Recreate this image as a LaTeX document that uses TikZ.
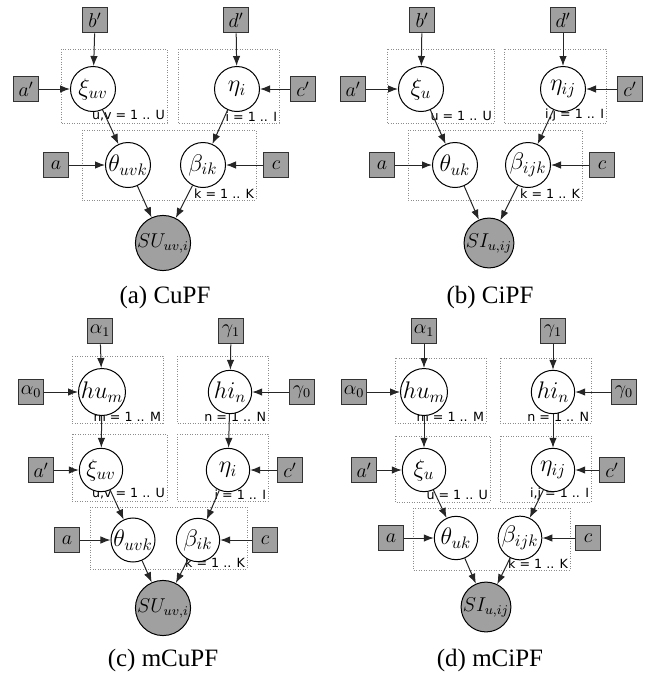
\documentclass[tikz,border=0pt]{standalone}
\usepackage{fontspec}
\setmainfont{Liberation Serif}
\newfontfamily\platefont{DejaVu Sans}
\usepackage{amsmath}
\usetikzlibrary{arrows.meta}
\definecolor{obsgray}{HTML}{A0A0A0}
\definecolor{plategray}{HTML}{8C8C8C}
\tikzset{
  latent/.style={
    circle,
    draw=black,
    fill=white,
    line width=0.6pt,
    minimum size=27pt,
    inner sep=0pt,
    font=\Large
  },
  observed/.style={
    latent,
    fill=obsgray,
    font=\large
  },
  hyper/.style={
    rectangle,
    draw=black!80,
    fill=obsgray,
    line width=0.6pt,
    minimum size=15.5pt,
    inner sep=0pt,
    font=\large
  },
  plate/.style={
    draw=plategray,
    densely dotted,
    line width=0.5pt
  },
  platelabel/.style={
    anchor=south east,
    inner sep=1pt,
    font=\platefont\fontsize{7.6}{8}\selectfont
  },
  edge/.style={
    -{Latex[length=6pt,width=4.5pt]},
    line width=0.6pt,
    draw=black!85
  },
  caption/.style={
    font=\fontsize{15}{18}\selectfont
  }
}

\begin{document}
\begin{tikzpicture}[x=0.6pt, y=-0.6pt]
  \useasboundingbox (0,0) rectangle (662,677);

  % (a) CuPF
  \draw[plate] (61,49) rectangle (167,123);
  \draw[plate] (178,49) rectangle (279,123);
  \draw[plate] (82,130) rectangle (256,200);
  \node[platelabel] at (167,123) {u,v = 1 .. U};
  \node[platelabel] at (279,123) {i = 1 .. I};
  \node[platelabel] at (256,200) {k = 1 .. K};
  \node[hyper] (abp) at (95,20) {$b'$};
  \node[hyper] (adp) at (236,20) {$d'$};
  \node[hyper] (aap) at (26,89) {$a'$};
  \node[hyper] (acp) at (303,89) {$c'$};
  \node[latent] (axi) at (93,89) {$\xi_{uv}$};
  \node[latent] (aeta) at (237,89) {$\eta_{i}$};
  \node[hyper] (aa) at (56,165) {$a$};
  \node[hyper] (ac) at (276,165) {$c$};
  \node[latent] (atheta) at (128,165) {$\theta_{uvk}$};
  \node[latent] (abeta) at (203,165) {$\beta_{ik}$};
  \node[observed] (asu) at (163,243) {$SU_{uv,i}$};
  \node[caption] (acap) at (165,297) {(a) CuPF};
  \draw[edge] (abp) -- (axi);
  \draw[edge] (aap) -- (axi);
  \draw[edge] (adp) -- (aeta);
  \draw[edge] (acp) -- (aeta);
  \draw[edge] (axi) -- (atheta);
  \draw[edge] (aeta) -- (abeta);
  \draw[edge] (aa) -- (atheta);
  \draw[edge] (ac) -- (abeta);
  \draw[edge] (atheta) -- (asu);
  \draw[edge] (abeta) -- (asu);

  % (b) CiPF
  \draw[plate] (387,49) rectangle (494,123);
  \draw[plate] (504,49) rectangle (606,123);
  \draw[plate] (408,130) rectangle (582,200);
  \node[platelabel] at (494,123) {u = 1 .. U};
  \node[platelabel] at (606,123) {i,j = 1 .. I};
  \node[platelabel] at (582,200) {k = 1 .. K};
  \node[hyper] (bbp) at (422,20) {$b'$};
  \node[hyper] (bdp) at (563,20) {$d'$};
  \node[hyper] (bap) at (353,89) {$a'$};
  \node[hyper] (bcp) at (630,89) {$c'$};
  \node[latent] (bxi) at (421,89) {$\xi_{u}$};
  \node[latent] (beta) at (563,89) {$\eta_{ij}$};
  \node[hyper] (ba) at (382,165) {$a$};
  \node[hyper] (bc) at (602,165) {$c$};
  \node[latent] (btheta) at (455,165) {$\theta_{uk}$};
  \node[latent] (bbeta) at (528,165) {$\beta_{ijk}$};
  \node[observed] (bsi) at (489,243) {$SI_{u,ij}$};
  \node[caption] (bcap) at (490,297) {(b) CiPF};
  \draw[edge] (bbp) -- (bxi);
  \draw[edge] (bap) -- (bxi);
  \draw[edge] (bdp) -- (beta);
  \draw[edge] (bcp) -- (beta);
  \draw[edge] (bxi) -- (btheta);
  \draw[edge] (beta) -- (bbeta);
  \draw[edge] (ba) -- (btheta);
  \draw[edge] (bc) -- (bbeta);
  \draw[edge] (btheta) -- (bsi);
  \draw[edge] (bbeta) -- (bsi);

  % (c) mCuPF
  \draw[plate] (72,356) rectangle (163,423);
  \draw[plate] (177,356) rectangle (268,423);
  \draw[plate] (72,434) rectangle (167,501);
  \draw[plate] (177,434) rectangle (268,501);
  \draw[plate] (90,507) rectangle (247,569);
  \node[platelabel] at (163,423) {m = 1 .. M};
  \node[platelabel] at (268,423) {n = 1 .. N};
  \node[platelabel] at (167,501) {u,v = 1 .. U};
  \node[platelabel] at (268,501) {i = 1 .. I};
  \node[platelabel] at (247,569) {k = 1 .. K};
  \node[hyper] (calone) at (100,331) {$\alpha_1$};
  \node[hyper] (cgaone) at (231,331) {$\gamma_1$};
  \node[hyper] (calzero) at (31,392) {$\alpha_0$};
  \node[hyper] (cgazero) at (302,392) {$\gamma_0$};
  \node[latent, minimum size=26pt] (chu) at (102,392) {$hu_{m}$};
  \node[latent, minimum size=26pt] (chi) at (230,392) {$hi_{n}$};
  \node[hyper] (cap) at (41,470) {$a'$};
  \node[hyper] (ccp) at (290,470) {$c'$};
  \node[latent, minimum size=26pt] (cxi) at (101,470) {$\xi_{uv}$};
  \node[latent, minimum size=26pt] (ceta) at (228,470) {$\eta_{i}$};
  \node[hyper] (ca) at (67,540) {$a$};
  \node[hyper] (cc) at (265,540) {$c$};
  \node[latent, minimum size=26pt] (ctheta) at (133,540) {$\theta_{uvk}$};
  \node[latent, minimum size=26pt] (cbeta) at (198,540) {$\beta_{ik}$};
  \node[observed, minimum size=26pt] (csu) at (163,608) {$SU_{uv,i}$};
  \node[caption] (ccap) at (163,660) {(c) mCuPF};
  \draw[edge] (calone) -- (chu);
  \draw[edge] (calzero) -- (chu);
  \draw[edge] (cgaone) -- (chi);
  \draw[edge] (cgazero) -- (chi);
  \draw[edge] (chu) -- (cxi);
  \draw[edge] (chi) -- (ceta);
  \draw[edge] (cap) -- (cxi);
  \draw[edge] (ccp) -- (ceta);
  \draw[edge] (cxi) -- (ctheta);
  \draw[edge] (ceta) -- (cbeta);
  \draw[edge] (ca) -- (ctheta);
  \draw[edge] (cc) -- (cbeta);
  \draw[edge] (ctheta) -- (csu);
  \draw[edge] (cbeta) -- (csu);

  % (d) mCiPF
  \draw[plate] (395,358) rectangle (486,423);
  \draw[plate] (500,358) rectangle (591,423);
  \draw[plate] (395,436) rectangle (490,502);
  \draw[plate] (500,436) rectangle (591,502);
  \draw[plate] (413,508) rectangle (570,570);
  \node[platelabel] at (486,423) {m = 1 .. M};
  \node[platelabel] at (591,423) {n = 1 .. N};
  \node[platelabel] at (490,502) {u = 1 .. U};
  \node[platelabel] at (591,502) {i,j = 1 .. I};
  \node[platelabel] at (570,570) {k = 1 .. K};
  \node[hyper] (dalone) at (424,331) {$\alpha_1$};
  \node[hyper] (dgaone) at (553,331) {$\gamma_1$};
  \node[hyper] (dalzero) at (354,392) {$\alpha_0$};
  \node[hyper] (dgazero) at (624,392) {$\gamma_0$};
  \node[latent, minimum size=26pt] (dhu) at (424,392) {$hu_{m}$};
  \node[latent, minimum size=26pt] (dhi) at (553,392) {$hi_{n}$};
  \node[hyper] (dap) at (364,470) {$a'$};
  \node[hyper] (dcp) at (612,470) {$c'$};
  \node[latent, minimum size=26pt] (dxi) at (424,470) {$\xi_{u}$};
  \node[latent, minimum size=26pt] (deta) at (553,470) {$\eta_{ij}$};
  \node[hyper] (da) at (391,538) {$a$};
  \node[hyper] (dc) at (588,538) {$c$};
  \node[latent, minimum size=26pt] (dtheta) at (456,538) {$\theta_{uk}$};
  \node[latent, minimum size=26pt] (dbeta) at (520,538) {$\beta_{ijk}$};
  \node[observed, minimum size=26pt] (dsi) at (486,607) {$SI_{u,ij}$};
  \node[caption] (dcap) at (490,660) {(d) mCiPF};
  \draw[edge] (dalone) -- (dhu);
  \draw[edge] (dalzero) -- (dhu);
  \draw[edge] (dgaone) -- (dhi);
  \draw[edge] (dgazero) -- (dhi);
  \draw[edge] (dhu) -- (dxi);
  \draw[edge] (dhi) -- (deta);
  \draw[edge] (dap) -- (dxi);
  \draw[edge] (dcp) -- (deta);
  \draw[edge] (dxi) -- (dtheta);
  \draw[edge] (deta) -- (dbeta);
  \draw[edge] (da) -- (dtheta);
  \draw[edge] (dc) -- (dbeta);
  \draw[edge] (dtheta) -- (dsi);
  \draw[edge] (dbeta) -- (dsi);
\end{tikzpicture}
\end{document}
